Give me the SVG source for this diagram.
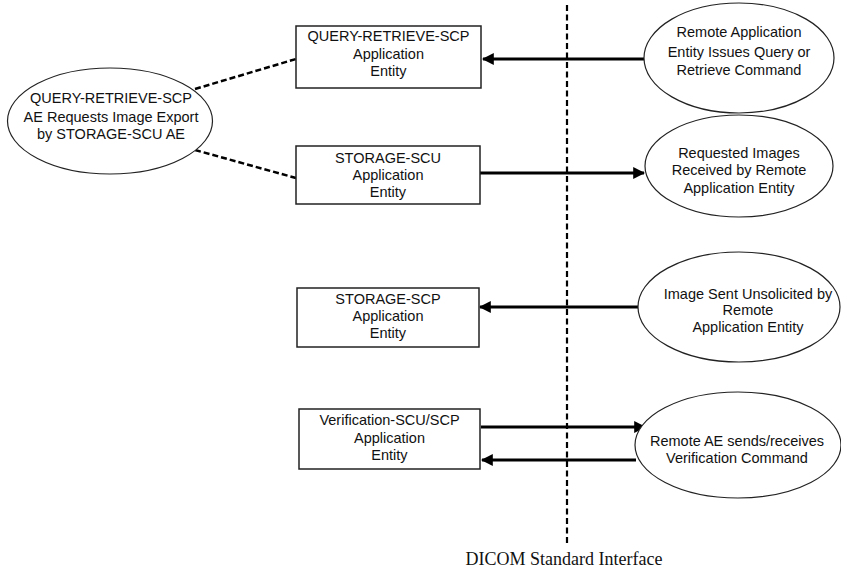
<svg xmlns="http://www.w3.org/2000/svg" width="841" height="573" viewBox="0 0 841 573">
<defs>
<style>
.box{fill:#fff;stroke:#222;stroke-width:1.5}
.ell{fill:#fff;stroke:#222;stroke-width:1.2}
.t{font-family:"Liberation Sans",Arial,sans-serif;font-size:14.5px;fill:#111;text-anchor:middle}
.arr{stroke:#000;stroke-width:3;fill:none}
.dash{stroke:#000;stroke-width:2.5;fill:none;stroke-dasharray:6,3}
.iface{stroke:#000;stroke-width:2.2;fill:none;stroke-dasharray:6,3.5}
.lbl{font-family:"Liberation Serif","Times New Roman",serif;font-size:18px;fill:#111;text-anchor:middle}
</style>
<marker id="ah" viewBox="0 0 10 10" refX="9" refY="5" markerWidth="4" markerHeight="4" orient="auto" markerUnits="strokeWidth">
<path d="M0,0 L10,5 L0,10 z" fill="#000"/>
</marker>
</defs>
<rect width="841" height="573" fill="#fff"/>

<g id="interface">
<line class="iface" x1="567" y1="5" x2="567" y2="543"/>
<text class="lbl" x="564" y="565">DICOM Standard Interface</text>
</g>

<g id="connectors">
<line class="dash" x1="195" y1="89" x2="296" y2="59"/>
<line class="dash" x1="195" y1="150" x2="296" y2="178"/>
<line class="arr" x1="644" y1="59" x2="483" y2="59" marker-end="url(#ah)"/>
<line class="arr" x1="480" y1="173" x2="644" y2="173" marker-end="url(#ah)"/>
<line class="arr" x1="638" y1="307" x2="480" y2="307" marker-end="url(#ah)"/>
<line class="arr" x1="481" y1="427" x2="645" y2="427" marker-end="url(#ah)"/>
<line class="arr" x1="636" y1="460" x2="482" y2="460" marker-end="url(#ah)"/>
</g>

<g id="left-ellipse">
<ellipse class="ell" cx="110" cy="121" rx="102.5" ry="53"/>
<text class="t" x="111" y="103">QUERY-RETRIEVE-SCP</text>
<text class="t" x="111" y="122">AE Requests Image Export</text>
<text class="t" x="111" y="139">by STORAGE-SCU AE</text>
</g>

<g id="qr-scp">
<rect class="box" x="296" y="26" width="185" height="62"/>
<text class="t" x="388.5" y="41">QUERY-RETRIEVE-SCP</text>
<text class="t" x="388.5" y="59">Application</text>
<text class="t" x="388.5" y="76">Entity</text>
</g>

<g id="storage-scu">
<rect class="box" x="296" y="146" width="184" height="58"/>
<text class="t" x="388" y="163">STORAGE-SCU</text>
<text class="t" x="388" y="180">Application</text>
<text class="t" x="388" y="197">Entity</text>
</g>

<g id="storage-scp">
<rect class="box" x="297" y="288" width="182" height="59"/>
<text class="t" x="388" y="304">STORAGE-SCP</text>
<text class="t" x="388" y="321">Application</text>
<text class="t" x="388" y="338">Entity</text>
</g>

<g id="verification">
<rect class="box" x="299" y="409" width="181" height="60"/>
<text class="t" x="389.5" y="425">Verification-SCU/SCP</text>
<text class="t" x="389.5" y="443">Application</text>
<text class="t" x="389.5" y="460">Entity</text>
</g>

<g id="remote-query">
<ellipse class="ell" cx="739" cy="58" rx="95" ry="55"/>
<text class="t" x="739" y="37">Remote Application</text>
<text class="t" x="739" y="57">Entity Issues Query or</text>
<text class="t" x="739" y="75">Retrieve Command</text>
</g>

<g id="remote-receive">
<ellipse class="ell" cx="739" cy="166" rx="94" ry="51"/>
<text class="t" x="739" y="158">Requested Images</text>
<text class="t" x="739" y="175">Received by Remote</text>
<text class="t" x="739" y="193">Application Entity</text>
</g>

<g id="remote-unsolicited">
<ellipse class="ell" cx="739" cy="307" rx="101" ry="55"/>
<text class="t" x="748" y="299">Image Sent Unsolicited by</text>
<text class="t" x="748" y="315">Remote</text>
<text class="t" x="748" y="332">Application Entity</text>
</g>

<g id="remote-verification">
<ellipse class="ell" cx="738" cy="445" rx="103" ry="53"/>
<text class="t" x="737" y="446">Remote AE sends/receives</text>
<text class="t" x="737" y="463">Verification Command</text>
</g>
</svg>
